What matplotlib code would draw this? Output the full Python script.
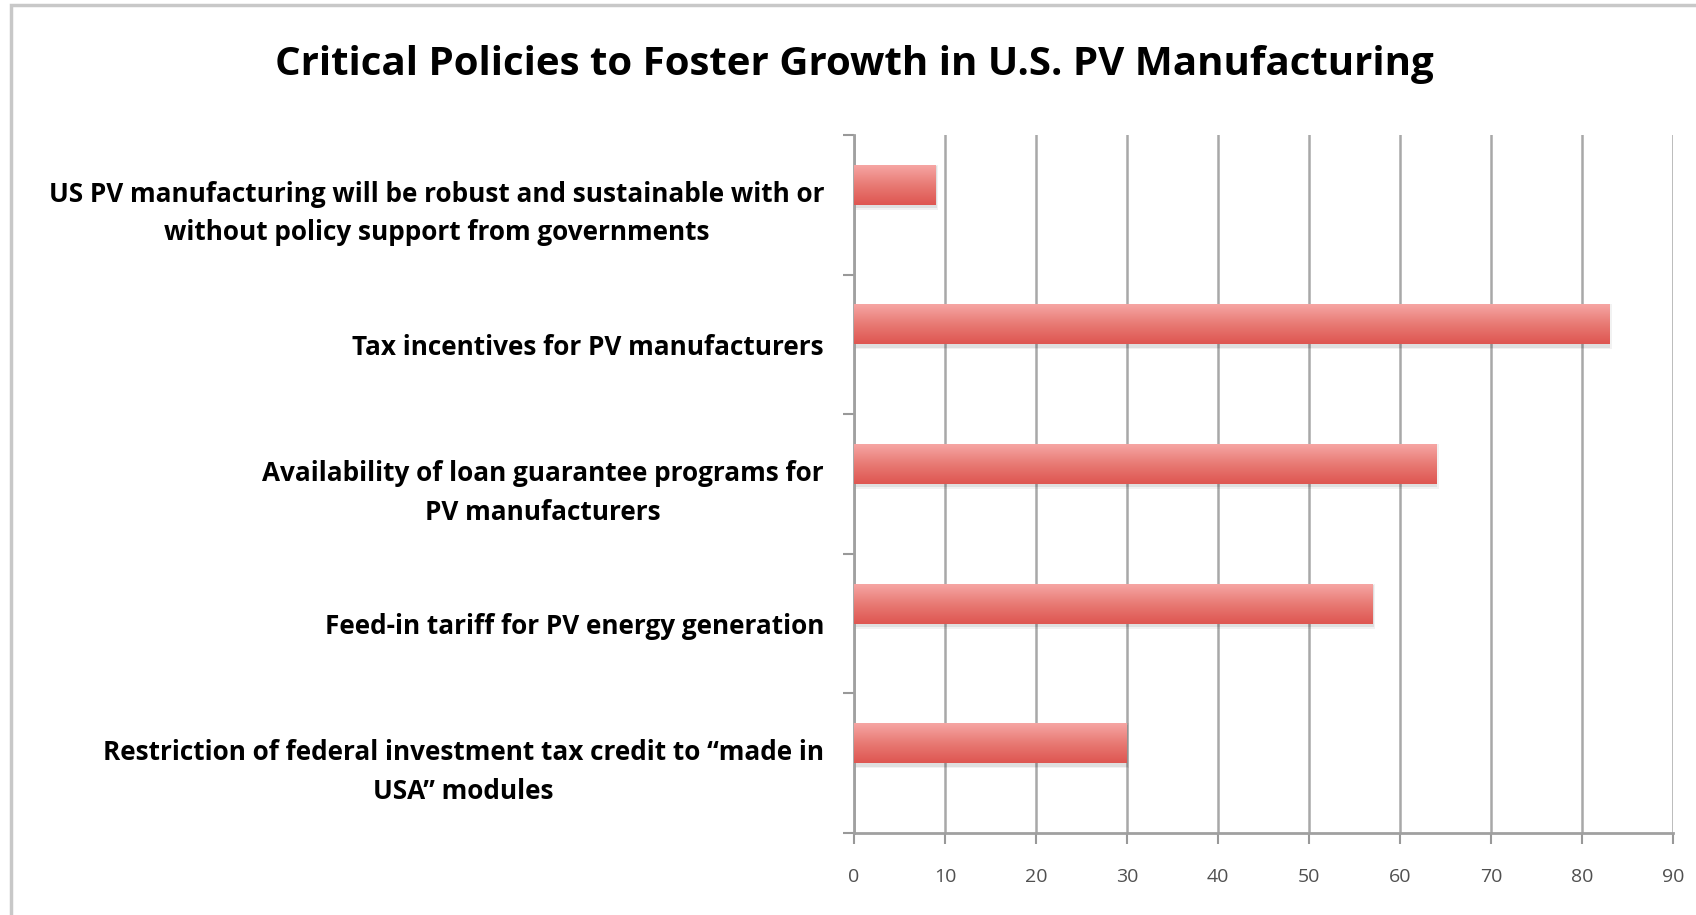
import numpy as np
import matplotlib
matplotlib.use('Agg')
import matplotlib.pyplot as plt
from matplotlib.colors import LinearSegmentedColormap
from matplotlib.patches import Rectangle

title = 'Critical Policies to Foster Growth in U.S. PV Manufacturing'
categories = [
    'US PV manufacturing will be robust and sustainable with or\nwithout policy support from governments',
    'Tax incentives for PV manufacturers',
    'Availability of loan guarantee programs for\nPV manufacturers',
    'Feed-in tariff for PV energy generation',
    'Restriction of federal investment tax credit to \u201cmade in\nUSA\u201d modules',
]
values = [9, 83, 64, 57, 30]
xticks = list(range(0, 100, 10))

plt.rcParams['font.family'] = ['Open Sans', 'DejaVu Sans']

fig = plt.figure(figsize=(16.96, 9.15), dpi=100)
ax = fig.add_axes([0.5035, 0.0896, 0.4829, 0.7629])

# grey frame round the chart area
fig.patches.append(Rectangle((11 / 1696, -0.05), 1.2, (915 - 5) / 915 + 0.05,
                             transform=fig.transFigure, fill=False,
                             ec='#c8c8c8', lw=2.5, zorder=0))

cmap = LinearSegmentedColormap.from_list('bar', ['#de5651', '#e87a74', '#f6a5a3'])
grad = np.linspace(0, 1, 64).reshape(-1, 1)
bar_h = 0.28
for i, v in enumerate(values):
    y0 = i - bar_h  # bar sits just above the category centre
    # soft shadow
    for k, a in [(0.25, 0.05), (0.12, 0.08)]:
        ax.barh(i - bar_h / 2 + 0.015, v + k, height=bar_h + 0.02 * k / 0.12,
                left=0, color='#000000', alpha=a, zorder=2, lw=0)
    ax.imshow(grad, cmap=cmap, aspect='auto', origin='lower',
              extent=(0, v, y0 + bar_h, y0), zorder=3, interpolation='bicubic')

ax.set_xlim(0, 90)
ax.set_ylim(len(values) - 0.5, -0.5)
ax.set_xticks(xticks)
ax.set_xticklabels([str(t) for t in xticks], fontsize=14, color='#505050')
ax.set_yticks(range(len(values)))
ax.set_yticklabels(categories, fontsize=18.8, fontweight='bold', linespacing=1.55)
for lab in ax.get_yticklabels():
    lab.set_multialignment('center')
ax.set_yticks(np.arange(-0.5, len(values), 1), minor=True)
ax.tick_params(axis='y', which='major', length=0, pad=21.5)
ax.tick_params(axis='y', which='minor', length=8, color='#999999', width=1.5)
ax.tick_params(axis='x', length=8, color='#999999', width=1.5, pad=17)

ax.grid(axis='x', color='#a8a8a8', lw=1.8, zorder=1)
ax.set_axisbelow(True)
for s in ['top', 'right']:
    ax.spines[s].set_visible(False)
for s in ['left', 'bottom']:
    ax.spines[s].set_color('#a0a0a0')
    ax.spines[s].set_linewidth(2)

fig.text(854 / 1696, 1 - 64 / 915, title, ha='center', va='center',
         fontsize=29, fontweight='bold')

fig.savefig('out.png', dpi=100)
